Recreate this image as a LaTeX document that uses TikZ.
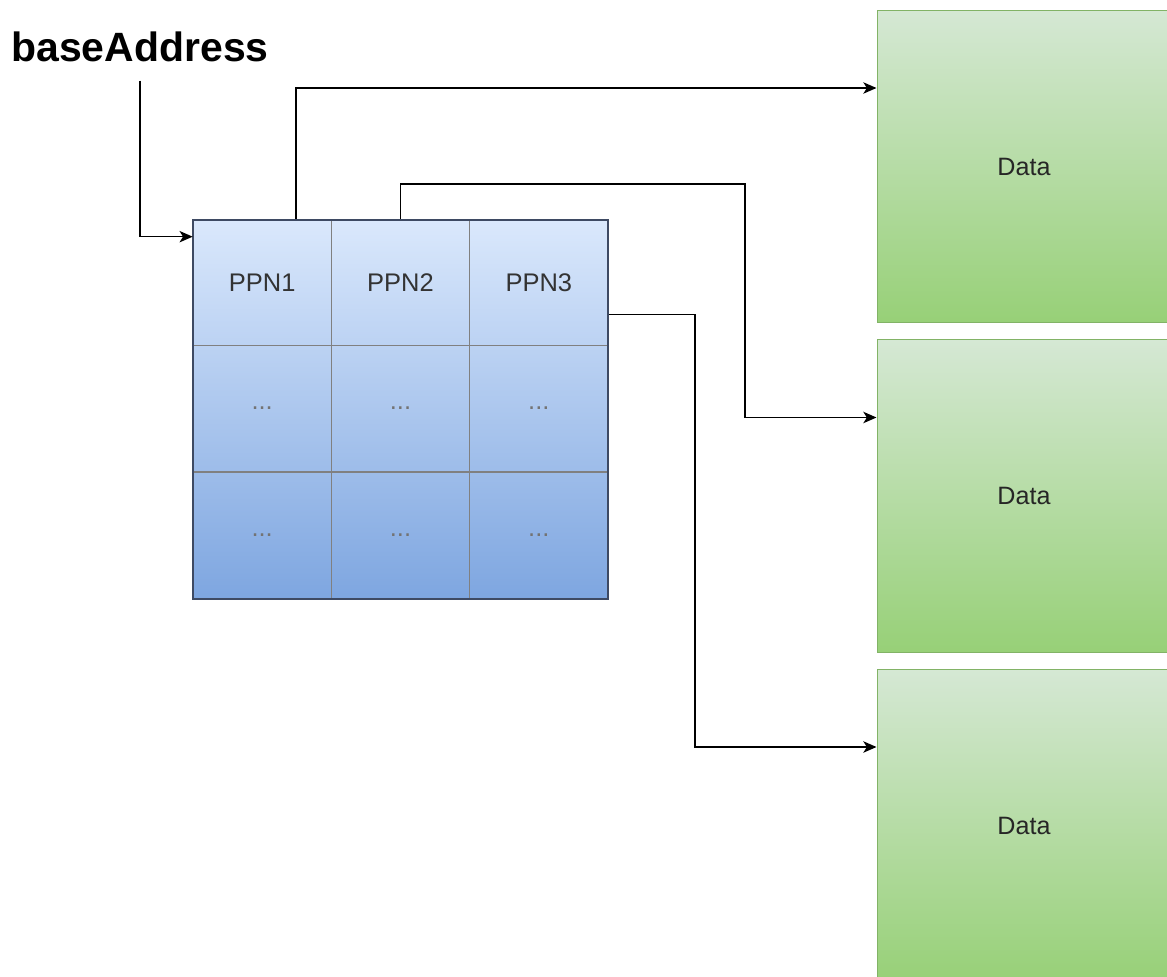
\documentclass[tikz,border=0pt]{standalone}
\usepackage{xcolor}
\usepackage{tikz}
\usetikzlibrary{arrows.meta,calc,positioning}
\usepackage{fontspec}
\setmainfont{Liberation Sans}
\definecolor{tabtop}{HTML}{DAE8FC}
\definecolor{tabbot}{HTML}{7EA6E0}
\definecolor{tabline}{HTML}{3E4A63}
\definecolor{datatop}{HTML}{D5E8D4}
\definecolor{databot}{HTML}{97D077}
\definecolor{dataline}{HTML}{82B366}

\tikzset{
  cell/.style={draw=gray, line width=0.6pt, minimum width=2.767cm, minimum height=2.53cm, inner sep=0pt, font=\fontsize{14.5}{17}\selectfont, text=black!80},
  dots/.style={cell, text=black!55},
  databox/.style={draw=dataline, line width=0.6pt, top color=datatop, bottom color=databot, minimum width=5.88cm, minimum height=6.26cm, font=\fontsize{14.3}{17}\selectfont, text=black!85},
  link/.style={-{Stealth[length=7.5pt,width=6.5pt,inset=2pt]}, line width=0.8pt}
}

\begin{document}
\begin{tikzpicture}[x=0.02cm, y=-0.02cm]
\useasboundingbox (0,0) rectangle (1167,977);
\node[font=\bfseries\fontsize{23.3}{26}\selectfont] (base) at (140,47) {baseAddress};

% page table
\node[top color=tabtop, bottom color=tabbot, minimum width=8.3cm, minimum height=7.58cm] (pt) at (400.5,409.5) {};
\foreach \c in {1,2,3} {
  \node[cell] (p\c) at ({193+138.33*(\c-0.5)},282.5) {PPN\c};
  \node[dots] (q\c) at ({193+138.33*(\c-0.5)},408.5) {...};
  \node[dots] (r\c) at ({193+138.33*(\c-0.5)},535.5) {...};
}
\draw[tabline, line width=1.2pt] (pt.north west) rectangle (pt.south east);

% data pages
\foreach \i/\y in {1/166.5, 2/496, 3/825.5} {
  \node[databox] (data\i) at (1024,\y) {Data};
  \coordinate (in\i) at ($(data\i.north west)!0.25!(data\i.south west)$);
}

\coordinate (entry) at ([yshift=-0.34cm]pt.north west);
\draw[link] ([yshift=-0.25cm]base.south) |- (entry);

\draw[link] ([xshift=0.68cm]p1.north) |- (in1);

\coordinate (bend2) at (745,184);
\draw[link] (p2.north) |- (bend2) |- (in2);

\coordinate (out3) at ($(p3.north east)!0.75!(p3.south east)$);
\coordinate (bend3) at (695,0);
\draw[link] (out3) -- (out3 -| bend3) |- (in3);
\end{tikzpicture}
\end{document}
